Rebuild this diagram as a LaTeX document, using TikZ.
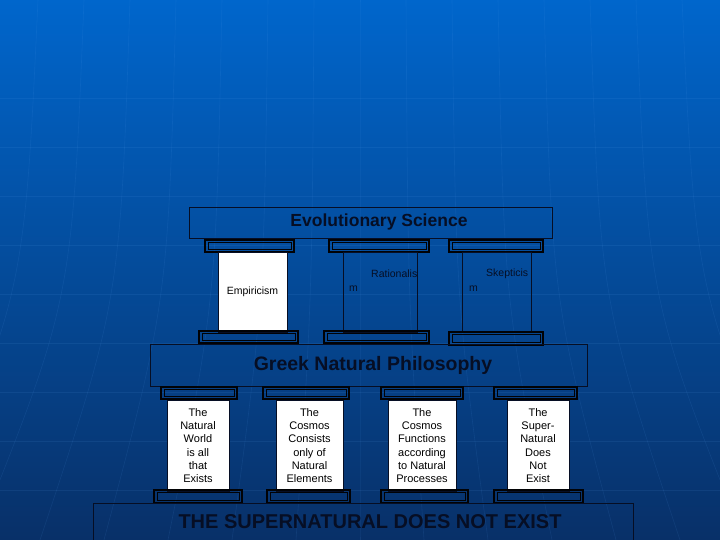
\documentclass[tikz,border=0pt]{standalone}
\usepackage{fontspec}
\setmainfont{Liberation Sans}
\usepackage{xcolor}
\usetikzlibrary{positioning}
\definecolor{bgtop}{RGB}{0,102,204}
\definecolor{bgmid}{RGB}{0,82,165}
\definecolor{bgbot}{RGB}{8,48,104}
\definecolor{navy}{RGB}{6,14,36}
\definecolor{gridblue}{RGB}{90,160,240}
\newcommand{\slab}[4]{%
  \draw[slab] (#1,#3) rectangle (#2,#4);
  \draw[slabin] (#1+3,#3+2.5) rectangle (#2-3,#4-2.5);}

\begin{document}
\begin{tikzpicture}[x=1pt,y=-1pt,
  gridline/.style={gridblue,opacity=0.11,line width=0.6pt},
  beam/.style={draw=navy,line width=0.8pt,inner sep=0pt},
  beamtext/.style={text=navy,font=\bfseries},
  slab/.style={draw=black!85!navy,line width=2.2pt},
  slabin/.style={draw=black!85!navy,line width=0.7pt},
  whiteshaft/.style={draw=navy,fill=white,line width=0.6pt,inner sep=0pt,
    align=center,font=\fontsize{11}{13.2}\selectfont},
  openshaft/.style={draw=navy,line width=0.8pt,inner sep=0pt},
  coltext/.style={text=navy,inner sep=0pt,font=\fontsize{10.5}{12}\selectfont}]
  % background
  \shade[top color=bgtop,middle color=bgmid,bottom color=bgbot] (0,0) rectangle (720,540);
  \useasboundingbox (0,0) rectangle (720,540);
  \clip (0,0) rectangle (720,540);
  \foreach \y in {98,147,...,491}
    \draw[gridline] (0,\y) -- (720,\y);
  \foreach \k in {-8,...,8}
    \draw[gridline] (360+\k*46,0) .. controls (360+\k*48,300) .. (360+\k*64,540);

  % upper storey
  \node[beam,minimum width=363pt,minimum height=31pt] (evo) at (370.5,222.5) {};
  \node[beamtext,font=\bfseries\fontsize{17.5}{20}\selectfont] (evotext) at (379,222) {Evolutionary Science};
  \slab{205}{294}{240}{252}
  \slab{329}{429}{240}{252}
  \slab{449}{543}{240}{252}
  \node[whiteshaft,minimum width=69pt,minimum height=80pt,font=\fontsize{10.5}{12}\selectfont] (emp) at (252.5,292) {Empiricism};
  \node[openshaft,minimum width=74pt,minimum height=80pt] (rat) at (380,292) {};
  \node[openshaft,minimum width=69pt,minimum height=80pt] (ske) at (496.5,292) {};
  \node[coltext,anchor=west] (rat1) at (371,274) {Rationalis};
  \node[coltext,anchor=west] (rat2) at (349,289) {m};
  \node[coltext,anchor=west] (ske1) at (486,274) {Skepticis};
  \node[coltext,anchor=west] (ske2) at (469,289) {m};
  \slab{199}{298}{331}{343}
  \slab{324}{429}{331}{343}
  \slab{449}{543}{332}{345}

  % middle storey
  \node[beam,minimum width=437pt,minimum height=42pt] (greek) at (368.5,365) {};
  \node[beamtext,font=\bfseries\fontsize{19.5}{22}\selectfont] (greektext) at (373,365) {Greek Natural Philosophy};
  \foreach \n/\ca/\cb/\sa/\sb/\ba/\bb/\txt in {%
      1/161/237/167/229/154/242/{The\\Natural\\World\\is all\\that\\Exists},
      2/263/349/276/343/267/350/{The\\Cosmos\\Consists\\only of\\Natural\\Elements},
      3/381/463/388/456/381/468/{The\\Cosmos\\Functions\\according\\to Natural\\Processes},
      4/494/577/507/569/494/583/{The\\Super-\\Natural\\Does\\Not\\Exist}} {
    \slab{\ca}{\cb}{387}{399}
    \node[whiteshaft,minimum width={(\sb-\sa)*1pt},minimum height=91pt] (col\n) at ({(\sa+\sb)/2},445.5) {\txt};
    \slab{\ba}{\bb}{490}{503}
  }

  % foundation
  \node[beam,minimum width=540pt,minimum height=45pt] (base) at (363,525.5) {};
  \node[beamtext,font=\bfseries\fontsize{20}{22}\selectfont] (basetext) at (370,522) {THE SUPERNATURAL DOES NOT EXIST};
\end{tikzpicture}
\end{document}
